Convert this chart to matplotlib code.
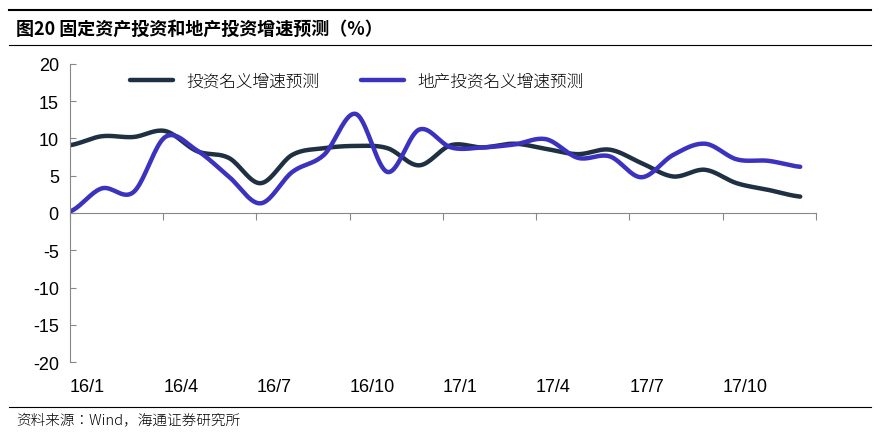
import numpy as np
import matplotlib
matplotlib.use("Agg")
import matplotlib.pyplot as plt
import matplotlib.transforms as mtransforms
from matplotlib import font_manager as fm

plt.rcParams['axes.unicode_minus'] = False
plt.rcParams['font.family'] = 'Liberation Sans'

# find a CJK font file directly
cjk_files = [f.fname for f in fm.fontManager.ttflist if 'CJK' in f.name]
cjk_files = sorted(cjk_files, key=lambda f: ('SC' not in f and 'sc' not in f.lower(), 'Bold' in f))
cjk_bold = [f for f in cjk_files if 'Bold' in f]
cjk = fm.FontProperties(fname=cjk_files[0]) if cjk_files else fm.FontProperties(family='Noto Sans CJK SC')
cjk_b = fm.FontProperties(fname=cjk_bold[0]) if cjk_bold else cjk.copy()
if not cjk_bold:
	cjk_b.set_weight('bold')

# monthly data 16/1 .. 17/12
invest = [9.1, 10.3, 10.2, 11.0, 8.3, 7.4, 4.0, 7.8, 8.7, 9.0, 8.7, 6.4,
          9.1, 8.8, 9.3, 8.6, 7.9, 8.5, 6.7, 4.9, 5.8, 4.0, 3.1, 2.2]
estate = [0.2, 3.3, 2.8, 10.2, 8.4, 4.9, 1.3, 5.5, 7.8, 13.3, 5.5, 11.2,
          8.8, 8.8, 9.2, 9.9, 7.4, 7.6, 4.8, 7.8, 9.3, 7.2, 7.0, 6.2]
tick_labels = ['16/1', '16/4', '16/7', '16/10', '17/1', '17/4', '17/7', '17/10']
series_names = ['投资名义增速预测', '地产投资名义增速预测']

def smooth(y, n=20):
	# catmull-rom through the points
	p = np.concatenate([[y[0]], y, [y[-1]]])
	xs, ys = [], []
	for i in range(1, len(p) - 2):
		t = np.linspace(0, 1, n, endpoint=False)
		p0, p1, p2, p3 = p[i-1], p[i], p[i+1], p[i+2]
		v = 0.5 * ((2*p1) + (-p0 + p2)*t + (2*p0 - 5*p1 + 4*p2 - p3)*t**2 + (-p0 + 3*p1 - 3*p2 + p3)*t**3)
		xs.append(i - 1 + t)
		ys.append(v)
	xs.append([len(y) - 1])
	ys.append([y[-1]])
	return np.concatenate(xs), np.concatenate(ys)

fig = plt.figure(figsize=(8.8, 4.35), dpi=100)
ax = fig.add_axes([0.0795, 0.1655, 0.8475, 0.6851])

sx = 23.5 / 23  # spacing of the points in category units
x1, y1 = smooth(np.array(invest))
x2, y2 = smooth(np.array(estate))
ax.plot(x1 * sx, y1, color='#1f3042', lw=3.2, label=series_names[0], solid_capstyle='round')
ax.plot(x2 * sx, y2, color='#3b32c0', lw=3.2, label=series_names[1], solid_capstyle='round')

ax.set_xlim(0, 24)
ax.set_ylim(-20, 20)
ax.set_yticks(range(-20, 21, 5))
ax.set_xticks(range(0, 25, 3))
ax.tick_params(axis='x', labelbottom=False, direction='out', length=5, color='#888888')
ax.tick_params(axis='y', direction='in', length=4, color='#888888', labelsize=13, pad=8)
for s in ['top', 'right']:
	ax.spines[s].set_visible(False)
ax.spines['bottom'].set_position(('data', 0))
ax.spines['bottom'].set_color('#888888')
ax.spines['left'].set_color('#888888')

trans = mtransforms.blended_transform_factory(ax.transData, ax.transAxes)
for i, lab in enumerate(tick_labels):
	ax.text(i * 3, -0.055, lab, transform=trans, ha='left', va='top', fontsize=13)

lp = cjk.copy()
lp.set_size(12)
ax.legend(loc='upper left', bbox_to_anchor=(0.06, 1.02), ncol=2, frameon=False,
	prop=lp, handlelength=2.6, columnspacing=2.5)

fig.add_artist(plt.Line2D([0.01, 0.99], [0.975, 0.975], color='black', lw=1.5))
fig.add_artist(plt.Line2D([0.01, 0.99], [0.895, 0.895], color='black', lw=0.8))
fig.add_artist(plt.Line2D([0.01, 0.99], [0.062, 0.062], color='black', lw=0.8))
fig.text(0.018, 0.932, '图20 固定资产投资和地产投资增速预测（%）', fontproperties=cjk_b, fontsize=13,
	fontweight='bold', va='center')
fig.text(0.018, 0.033, '资料来源：Wind，海通证券研究所', fontproperties=cjk, fontsize=10.5, va='center')

fig.savefig('out.png', dpi=100)
